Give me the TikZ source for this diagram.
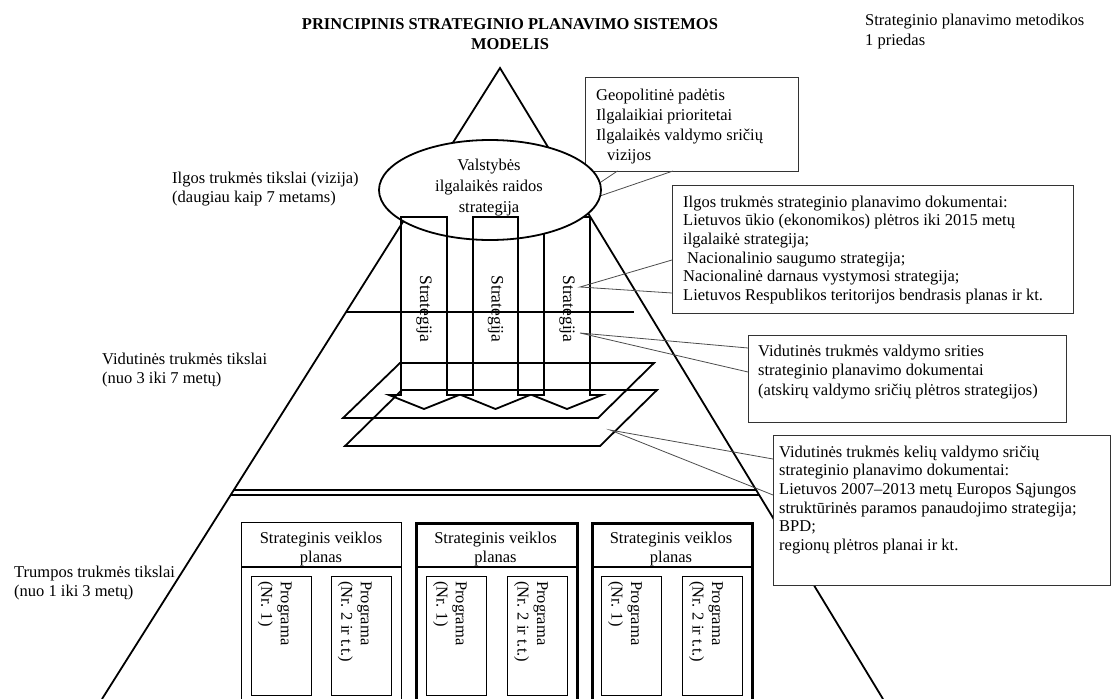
\documentclass[tikz,border=0pt]{standalone}
\usepackage{fontspec}
\setmainfont{Liberation Serif}
\usetikzlibrary{shapes.geometric}
\newcommand\tsz[1]{\fontsize{16.5}{#1}\selectfont}
\tikzset{
  edge/.style={draw=black,line width=1.8pt,line join=miter},
  callbox/.style={draw=black!80,line width=1pt,fill=white,inner sep=0pt,anchor=north west},
  ptr/.style={draw=black!70,line width=0.8pt},
  lbl/.style={inner sep=0pt,anchor=north west,align=left},
  vlbl/.style={inner sep=0pt,rotate=-90,align=left,anchor=north west,font=\tsz{19.5}},
  stratlbl/.style={inner sep=0pt,rotate=-90,anchor=center,font=\fontsize{17.5}{20}\selectfont},
  planthin/.style={draw=black,line width=1.3pt,inner sep=0pt,anchor=north west,minimum height=183pt},
  planthick/.style={draw=black,line width=2.8pt,inner sep=0pt,anchor=north west,minimum height=183pt},
  progbox/.style={draw=black,line width=1.1pt,inner sep=0pt,anchor=north west,minimum width=60pt,minimum height=119pt},
}
\begin{document}
\begin{tikzpicture}[x=1pt,y=-1pt]
\useasboundingbox (0,0) rectangle (1112,699);

% big triangle
\coordinate (apex) at (500,68);
\coordinate (bl) at (102,699);
\coordinate (br) at (883,699);
\draw[edge] (bl) -- (apex) -- (br);

% band lines
\coordinate (h1l) at (346.1,312);
\coordinate (h1r) at (634,312);
\draw[edge] (h1l) -- (h1r);
\coordinate (d1l) at (233.8,490);
\coordinate (d1r) at (756.2,490);
\coordinate (d2l) at (230.7,495);
\coordinate (d2r) at (759.2,495);
\draw[line width=1.3pt] (d1l) -- (d1r);
\draw[line width=2.2pt] (d2l) -- (d2r);

% parallelograms
\draw[edge] (400,363) -- (654,363) -- (598,418) -- (343,418) -- cycle;
\draw[edge] (402,390) -- (657,390) -- (600,446) -- (345,446) -- cycle;

% third strategy arrow (behind the ellipse)
\draw[edge] (544,217) -- (544,395) -- (532,395) -- (567,409) -- (602,395) -- (590,395) -- (590,217) -- cycle;

% callout 1
\node[callbox,minimum width=213pt,minimum height=94pt] (c1) at (585,77) {};
\coordinate (c1a) at (617.5,171);
\coordinate (c1b) at (673,171);
\coordinate (c1tip) at (559,210);
\draw[ptr] (c1a) -- (c1tip) -- (c1b);
\node[lbl,font=\tsz{20}] (c1t) at (596,89) {Geopolitinė padėtis\\Ilgalaikiai prioritetai\\Ilgalaikės valdymo sričių\\\hspace*{11pt}vizijos};

% ellipse
\node[draw,ellipse,fill=white,line width=1.8pt,minimum width=222pt,minimum height=100pt,inner sep=0pt] (ell) at (490,190) {};
\node[inner sep=0pt,align=center,font=\tsz{21}] (ellt) at (489,188) {Valstybės\\ilgalaikės raidos\\strategija};

% strategy arrows 1 and 2
\draw[edge] (401,217) -- (401,395) -- (389,395) -- (424,409) -- (459,395) -- (447,395) -- (447,217) -- cycle;
\draw[edge] (473,217) -- (473,395) -- (461,395) -- (495.5,409) -- (530,395) -- (518,395) -- (518,217) -- cycle;
\node[stratlbl] (s1) at (424,309) {Strategija};
\node[stratlbl] (s2) at (495.5,309) {Strategija};
\node[stratlbl] (s3) at (567,309) {Strategija};

% callout 2
\coordinate (c2tip) at (580,287);
\coordinate (c2a) at (672,260);
\coordinate (c2b) at (672,293);
\draw[ptr] (c2a) -- (c2tip) -- (c2b);
\node[callbox,minimum width=401pt,minimum height=128pt] (c2) at (672,185) {};
\node[lbl,font=\tsz{18.7}] (c2t) at (683,195.5) {Ilgos trukmės strateginio planavimo dokumentai:\\Lietuvos ūkio (ekonomikos) plėtros iki 2015 metų\\ilgalaikė strategija;\\\hspace*{4pt}Nacionalinio saugumo strategija;\\Nacionalinė darnaus vystymosi strategija;\\Lietuvos Respublikos teritorijos bendrasis planas ir kt.};

% callout 3
\coordinate (c3tip) at (580,333);
\coordinate (c3a) at (748,348);
\coordinate (c3b) at (748,372);
\draw[ptr] (c3a) -- (c3tip) -- (c3b);
\node[callbox,minimum width=318pt,minimum height=87pt] (c3) at (748,335) {};
\node[lbl,font=\tsz{19.5}] (c3t) at (758,344.5) {Vidutinės trukmės valdymo srities\\strateginio planavimo dokumentai\\(atskirų valdymo sričių plėtros strategijos)};

% callout 4
\coordinate (c4tip) at (610,430);
\coordinate (c4a) at (773,459);
\coordinate (c4b) at (773,495);
\draw[ptr] (c4a) -- (c4tip) -- (c4b);
\node[callbox,minimum width=337pt,minimum height=150pt] (c4) at (773,435) {};
\node[lbl,font=\tsz{18.7}] (c4t) at (779,445.5) {Vidutinės trukmės kelių valdymo sričių\\strateginio planavimo dokumentai:\\Lietuvos 2007–2013 metų Europos Sąjungos\\struktūrinės paramos panaudojimo strategija;\\BPD;\\regionų plėtros planai ir kt.};

% strategic activity plans
\node[planthin,minimum width=160pt] (b1) at (241,522) {};
\node[planthick,minimum width=161pt] (b2) at (415,522) {};
\node[planthick,minimum width=160pt] (b3) at (591,522) {};
\draw[line width=1.1pt] ([yshift=-45pt]b1.north west) -- ([yshift=-45pt]b1.north east);
\draw[line width=1.1pt] ([yshift=-45pt]b2.north west) -- ([yshift=-45pt]b2.north east);
\draw[line width=1.1pt] ([yshift=-45pt]b3.north west) -- ([yshift=-45pt]b3.north east);
\node[inner sep=0pt,anchor=north,align=center,font=\tsz{19}] (b1t) at (321,531.5) {Strateginis veiklos\\planas};
\node[inner sep=0pt,anchor=north,align=center,font=\tsz{19}] (b2t) at (495.5,531.5) {Strateginis veiklos\\planas};
\node[inner sep=0pt,anchor=north,align=center,font=\tsz{19}] (b3t) at (671,531.5) {Strateginis veiklos\\planas};

% programmes
\node[progbox] (p11) at (251,576) {};
\node[progbox] (p12) at (331,576) {};
\node[progbox] (p21) at (426,576) {};
\node[progbox] (p22) at (507,576) {};
\node[progbox] (p31) at (601,576) {};
\node[progbox] (p32) at (682,576) {};
\node[vlbl] (p11t) at ([xshift=41pt,yshift=-5pt]p11.north west) {Programa\\(Nr. 1)};
\node[vlbl] (p12t) at ([xshift=41pt,yshift=-5pt]p12.north west) {Programa\\(Nr. 2 ir t.t.)};
\node[vlbl] (p21t) at ([xshift=41pt,yshift=-5pt]p21.north west) {Programa\\(Nr. 1)};
\node[vlbl] (p22t) at ([xshift=41pt,yshift=-5pt]p22.north west) {Programa\\(Nr. 2 ir t.t.)};
\node[vlbl] (p31t) at ([xshift=41pt,yshift=-5pt]p31.north west) {Programa\\(Nr. 1)};
\node[vlbl] (p32t) at ([xshift=41pt,yshift=-5pt]p32.north west) {Programa\\(Nr. 2 ir t.t.)};

% side labels
\node[lbl,font=\tsz{19.5}] (lg) at (172,171.5) {Ilgos trukmės tikslai (vizija)\\(daugiau kaip 7 metams)};
\node[lbl,font=\tsz{19.5}] (md) at (102,352.5) {Vidutinės trukmės tikslai\\(nuo 3 iki 7 metų)};
\node[lbl,font=\tsz{19.5}] (sh) at (14,565.5) {Trumpos trukmės tikslai\\(nuo 1 iki 3 metų)};

% titles
\node[inner sep=0pt,anchor=north,align=center,font=\bfseries\tsz{20.5}] (title) at (510,18) {PRINCIPINIS STRATEGINIO PLANAVIMO SISTEMOS\\MODELIS};
\node[lbl,font=\tsz{20}] (annex) at (865,13.5) {Strateginio planavimo metodikos\\1 priedas};
\end{tikzpicture}
\end{document}
